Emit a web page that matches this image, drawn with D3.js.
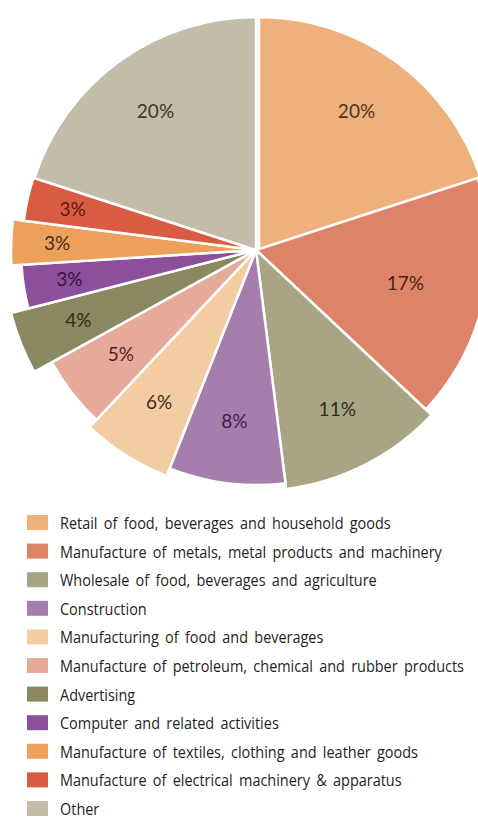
<html>
  <body style="margin:0;background:#fff">
    <script src="https://d3js.org/d3.v7.min.js"></script>
    <svg id="chart"></svg>
    <script>
      // data
      const categories = [
        'Retail of food, beverages and household goods',
        'Manufacture of metals, metal products and machinery',
        'Wholesale of food, beverages and agriculture',
        'Construction',
        'Manufacturing of food and beverages',
        'Manufacture of petroleum, chemical and rubber products',
        'Advertising',
        'Computer and related activities',
        'Manufacture of textiles, clothing and leather goods',
        'Manufacture of electrical machinery & apparatus',
        'Other'
      ];
      const shares = [20, 17, 11, 8, 6, 5, 4, 3, 3, 3, 20];

      // styling
      const colors = ['#efb17c', '#dd8468', '#a9a584', '#a57eae', '#f3cca2', '#e6aa9a',
                      '#8a8861', '#8c4f9b', '#eda05c', '#d95c42', '#c3bca8'];
      const labelColors = ['#4a3524', '#4a2418', '#2f2c1c', '#3f1c4c', '#3d2e20', '#4e1f1a',
                           '#2e2c18', '#3a1246', '#4a2c14', '#5a1a12', '#3c362a'];
      const radiusExtra = [0, 0, 8, 2, 10, 0, 20, 2, 12, 1, 0];

      const width = 478, height = 818;
      const cx = 256, cy = 250, baseR = 233;

      const svg = d3.select('#chart').attr('width', width).attr('height', height);

      const pie = d3.pie().sort(null).value(d => d);
      const arcs = pie(shares);

      const g = svg.append('g').attr('transform', `translate(${cx},${cy})`);

      g.selectAll('path.slice')
        .data(arcs)
        .join('path')
        .attr('class', 'slice')
        .attr('fill', (d, i) => colors[i])
        .attr('stroke', '#fff')
        .attr('stroke-width', 2.5)
        .attr('stroke-linejoin', 'round')
        .attr('transform', (d, i) => i === 0 ? 'translate(3,0)' : null)
        .attr('d', (d, i) => d3.arc().innerRadius(0).outerRadius(baseR + radiusExtra[i])(d));

      g.selectAll('text.pct')
        .data(arcs)
        .join('text')
        .attr('class', 'pct')
        .attr('transform', (d, i) => {
          const r = baseR + radiusExtra[i] - (shares[i] <= 3 ? 46 : shares[i] === 17 ? 80 : 62);
          const a = (d.startAngle + d.endAngle) / 2;
          return `translate(${Math.sin(a) * r},${-Math.cos(a) * r})`;
        })
        .attr('text-anchor', 'middle')
        .attr('dy', '0.35em')
        .attr('fill', (d, i) => labelColors[i])
        .style('font-family', 'Lato, sans-serif')
        .style('font-size', '19px')
        .text(d => d.data + '%');

      // legend
      const legend = svg.append('g').attr('transform', 'translate(27,515)');
      const rowH = 28.6;
      const rows = legend.selectAll('g.row')
        .data(categories)
        .join('g')
        .attr('class', 'row')
        .attr('transform', (d, i) => `translate(0,${i * rowH})`);
      rows.append('rect')
        .attr('width', 21)
        .attr('height', 15)
        .attr('fill', (d, i) => colors[i]);
      // condensed look: squeeze the text horizontally
      rows.append('text')
        .attr('transform', 'translate(33,8) scale(0.85,1)')
        .attr('dy', '0.35em')
        .attr('fill', '#231f1c')
        .style('font-family', '"Open Sans", sans-serif')
        .style('font-size', '17px')
        .style('word-spacing', '3px')
        .text(d => d);
    </script>
  </body>
</html>
